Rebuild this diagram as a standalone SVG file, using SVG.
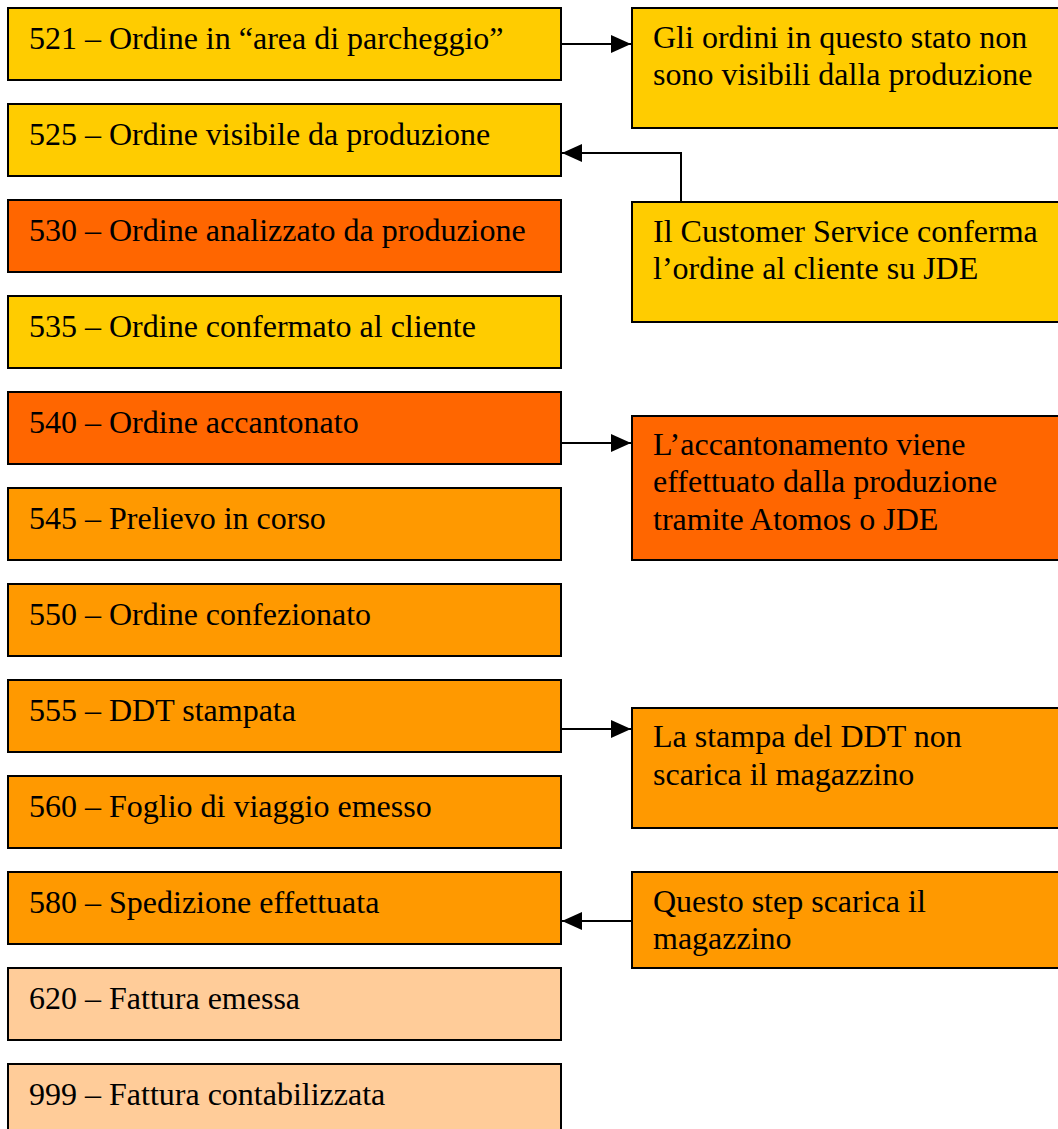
<svg xmlns="http://www.w3.org/2000/svg" width="1058" height="1129" viewBox="0 0 1058 1129">
<style>
.box{stroke:#000;stroke-width:2}
.y{fill:#FFCC00}.r{fill:#FF6600}.o{fill:#FF9900}.p{fill:#FFCC99}
text{font-family:"Liberation Serif","Times New Roman",serif;font-size:32px;fill:#000}
.c{fill:none;stroke:#000;stroke-width:2}
</style>
<defs>
<marker id="ah" markerWidth="10" markerHeight="9" refX="10" refY="4.5" orient="auto" markerUnits="userSpaceOnUse" viewBox="0 0 10 9">
<path d="M0,0 L10,4.5 L0,9 Z" fill="#000"/>
</marker>
<marker id="ah2" markerWidth="20" markerHeight="18" refX="20" refY="9" orient="auto" markerUnits="userSpaceOnUse" viewBox="0 0 20 18">
<path d="M0,0 L20,9 L0,18 Z" fill="#000"/>
</marker>
</defs>
<rect width="1058" height="1129" fill="#fff"/>
<g id="connectors">
<path class="c" d="M561,44 H631" marker-end="url(#ah2)"/>
<path class="c" d="M681,202 V153 H562" marker-end="url(#ah2)"/>
<path class="c" d="M561,443 H631" marker-end="url(#ah2)"/>
<path class="c" d="M561,729 H631" marker-end="url(#ah2)"/>
<path class="c" d="M632,921 H562" marker-end="url(#ah2)"/>
</g>
<g id="n521"><rect class="box y" x="8" y="8" width="553" height="72"/><text x="29" y="49">521 – Ordine in “area di parcheggio”</text></g>
<g id="n525"><rect class="box y" x="8" y="104" width="553" height="72"/><text x="29" y="145">525 – Ordine visibile da produzione</text></g>
<g id="n530"><rect class="box r" x="8" y="200" width="553" height="72"/><text x="29" y="241">530 – Ordine analizzato da produzione</text></g>
<g id="n535"><rect class="box y" x="8" y="296" width="553" height="72"/><text x="29" y="337">535 – Ordine confermato al cliente</text></g>
<g id="n540"><rect class="box r" x="8" y="392" width="553" height="72"/><text x="29" y="433">540 – Ordine accantonato</text></g>
<g id="n545"><rect class="box o" x="8" y="488" width="553" height="72"/><text x="29" y="529">545 – Prelievo in corso</text></g>
<g id="n550"><rect class="box o" x="8" y="584" width="553" height="72"/><text x="29" y="625">550 – Ordine confezionato</text></g>
<g id="n555"><rect class="box o" x="8" y="680" width="553" height="72"/><text x="29" y="721">555 – DDT stampata</text></g>
<g id="n560"><rect class="box o" x="8" y="776" width="553" height="72"/><text x="29" y="817">560 – Foglio di viaggio emesso</text></g>
<g id="n580"><rect class="box o" x="8" y="872" width="553" height="72"/><text x="29" y="913">580 – Spedizione effettuata</text></g>
<g id="n620"><rect class="box p" x="8" y="968" width="553" height="72"/><text x="29" y="1009">620 – Fattura emessa</text></g>
<g id="n999"><rect class="box p" x="8" y="1064" width="553" height="72"/><text x="29" y="1105">999 – Fattura contabilizzata</text></g>
<g id="noteA"><rect class="box y" x="632" y="8" width="440" height="120"/><text x="653" y="48">Gli ordini in questo stato non</text><text x="653" y="85">sono visibili dalla produzione</text></g>
<g id="noteB"><rect class="box y" x="632" y="202" width="440" height="120"/><text x="653" y="242">Il Customer Service conferma</text><text x="653" y="279">l’ordine al cliente su JDE</text></g>
<g id="noteC"><rect class="box r" x="632" y="416" width="440" height="144"/><text x="653" y="455">L’accantonamento viene</text><text x="653" y="492">effettuato dalla produzione</text><text x="653" y="530">tramite Atomos o JDE</text></g>
<g id="noteD"><rect class="box o" x="632" y="708" width="440" height="120"/><text x="653" y="747">La stampa del DDT non</text><text x="653" y="785">scarica il magazzino</text></g>
<g id="noteE"><rect class="box o" x="632" y="872" width="440" height="96"/><text x="653" y="912">Questo step scarica il</text><text x="653" y="949">magazzino</text></g>
</svg>
